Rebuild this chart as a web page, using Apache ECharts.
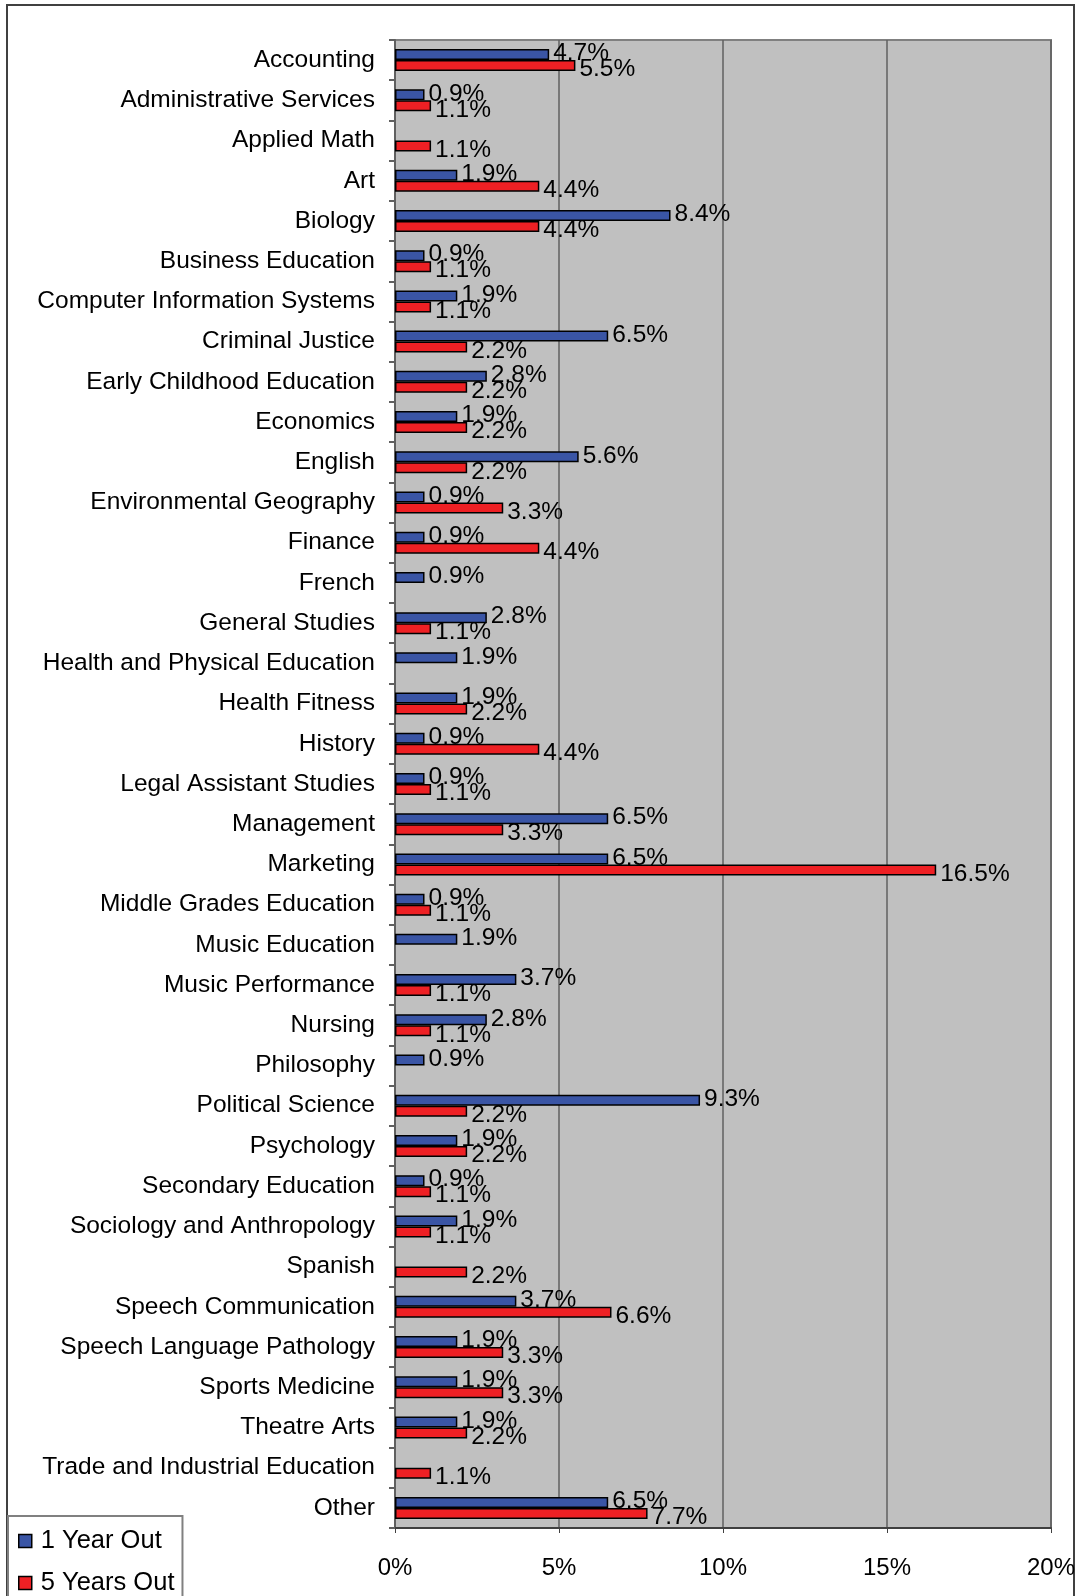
<!DOCTYPE html>
<html>
<head>
<meta charset="utf-8">
<script src="https://cdn.jsdelivr.net/npm/echarts@6/dist/echarts.min.js"></script>
<style>
  html, body { margin: 0; padding: 0; background: #fff; }
  #chart { width: 1080px; height: 1596px; }
</style>
</head>
<body>
<div id="chart"></div>
<script>
// categories, top to bottom
const majors = [
  'Accounting', 'Administrative Services', 'Applied Math', 'Art', 'Biology',
  'Business Education', 'Computer Information Systems', 'Criminal Justice',
  'Early Childhood Education', 'Economics', 'English', 'Environmental Geography',
  'Finance', 'French', 'General Studies', 'Health and Physical Education',
  'Health Fitness', 'History', 'Legal Assistant Studies', 'Management',
  'Marketing', 'Middle Grades Education', 'Music Education', 'Music Performance',
  'Nursing', 'Philosophy', 'Political Science', 'Psychology',
  'Secondary Education', 'Sociology and Anthropology', 'Spanish',
  'Speech Communication', 'Speech Language Pathology', 'Sports Medicine',
  'Theatre Arts', 'Trade and Industrial Education', 'Other'
];

// percent values, null where no bar
const oneYearOut = [
  4.7, 0.9, null, 1.9, 8.4,
  0.9, 1.9, 6.5,
  2.8, 1.9, 5.6, 0.9,
  0.9, 0.9, 2.8, 1.9,
  1.9, 0.9, 0.9, 6.5,
  6.5, 0.9, 1.9, 3.7,
  2.8, 0.9, 9.3, 1.9,
  0.9, 1.9, null,
  3.7, 1.9, 1.9,
  1.9, null, 6.5
];
const fiveYearsOut = [
  5.5, 1.1, 1.1, 4.4, 4.4,
  1.1, 1.1, 2.2,
  2.2, 2.2, 2.2, 3.3,
  4.4, null, 1.1, null,
  2.2, 4.4, 1.1, 3.3,
  16.5, 1.1, null, 1.1,
  1.1, null, 2.2, 2.2,
  1.1, 1.1, 2.2,
  6.6, 3.3, 3.3,
  2.2, 1.1, 7.7
];

const xTicks = [0, 5, 10, 15, 20];

const font = 'Liberation Sans, Arial, sans-serif';

function pct(p) {
  return p.value == null ? '' : p.value.toFixed(1) + '%';
}

function makeSeries(name, data, color, dy) {
  return {
    name: name,
    type: 'bar',
    data: data,
    barWidth: 11,
    barGap: '0%',
    itemStyle: { color: color, borderColor: '#000', borderWidth: 1.5 },
    label: {
      show: true,
      position: 'right',
      distance: 4,
      offset: [0, dy],
      color: '#000',
      fontFamily: font,
      fontSize: 24.5,
      formatter: pct
    }
  };
}

const chart = echarts.init(document.getElementById('chart'));
chart.setOption({
  backgroundColor: '#fff',
  animation: false,
  graphic: [{
    type: 'rect',
    shape: { x: 7, y: 5, width: 1067, height: 1600 },
    style: { fill: 'none', stroke: '#404040', lineWidth: 2 },
    z: -1
  }],
  grid: {
    left: 395, right: 29, top: 40, bottom: 68,
    show: true,
    backgroundColor: '#c0c0c0',
    borderColor: '#808080',
    borderWidth: 2
  },
  legend: {
    orient: 'vertical',
    left: 8, top: 1516,
    height: 110,
    padding: [12, 8, 30, 10],
    itemGap: 16,
    itemWidth: 13, itemHeight: 13,
    backgroundColor: '#fff',
    borderColor: '#808080',
    borderWidth: 2,
    icon: 'rect',
    itemStyle: { borderColor: '#000', borderWidth: 1.5 },
    textStyle: { fontFamily: font, fontSize: 25.5, color: '#000', padding: [0, 0, 0, 4] },
    data: ['1 Year Out', '5 Years Out']
  },
  xAxis: {
    type: 'value',
    min: xTicks[0],
    max: xTicks[xTicks.length - 1],
    interval: 5,
    axisLine: { show: true, lineStyle: { color: '#404040', width: 2 } },
    axisTick: { show: true, length: 5, lineStyle: { color: '#404040' } },
    splitLine: { show: true, lineStyle: { color: '#606060', width: 1.5 } },
    axisLabel: {
      margin: 28,
      fontFamily: font,
      fontSize: 24,
      color: '#000',
      formatter: '{value}%'
    }
  },
  yAxis: {
    type: 'category',
    inverse: true,
    data: majors,
    axisLine: { show: true, lineStyle: { color: '#606060', width: 2 } },
    axisTick: { show: true, length: 6, lineStyle: { color: '#606060', width: 2 } },
    axisLabel: {
      margin: 20,
      fontFamily: font,
      fontSize: 24.5,
      color: '#000',
      interval: 0
    }
  },
  series: [
    makeSeries('1 Year Out', oneYearOut, '#3a55a5', -1),
    makeSeries('5 Years Out', fiveYearsOut, '#ee2024', 4)
  ]
});
</script>
</body>
</html>
